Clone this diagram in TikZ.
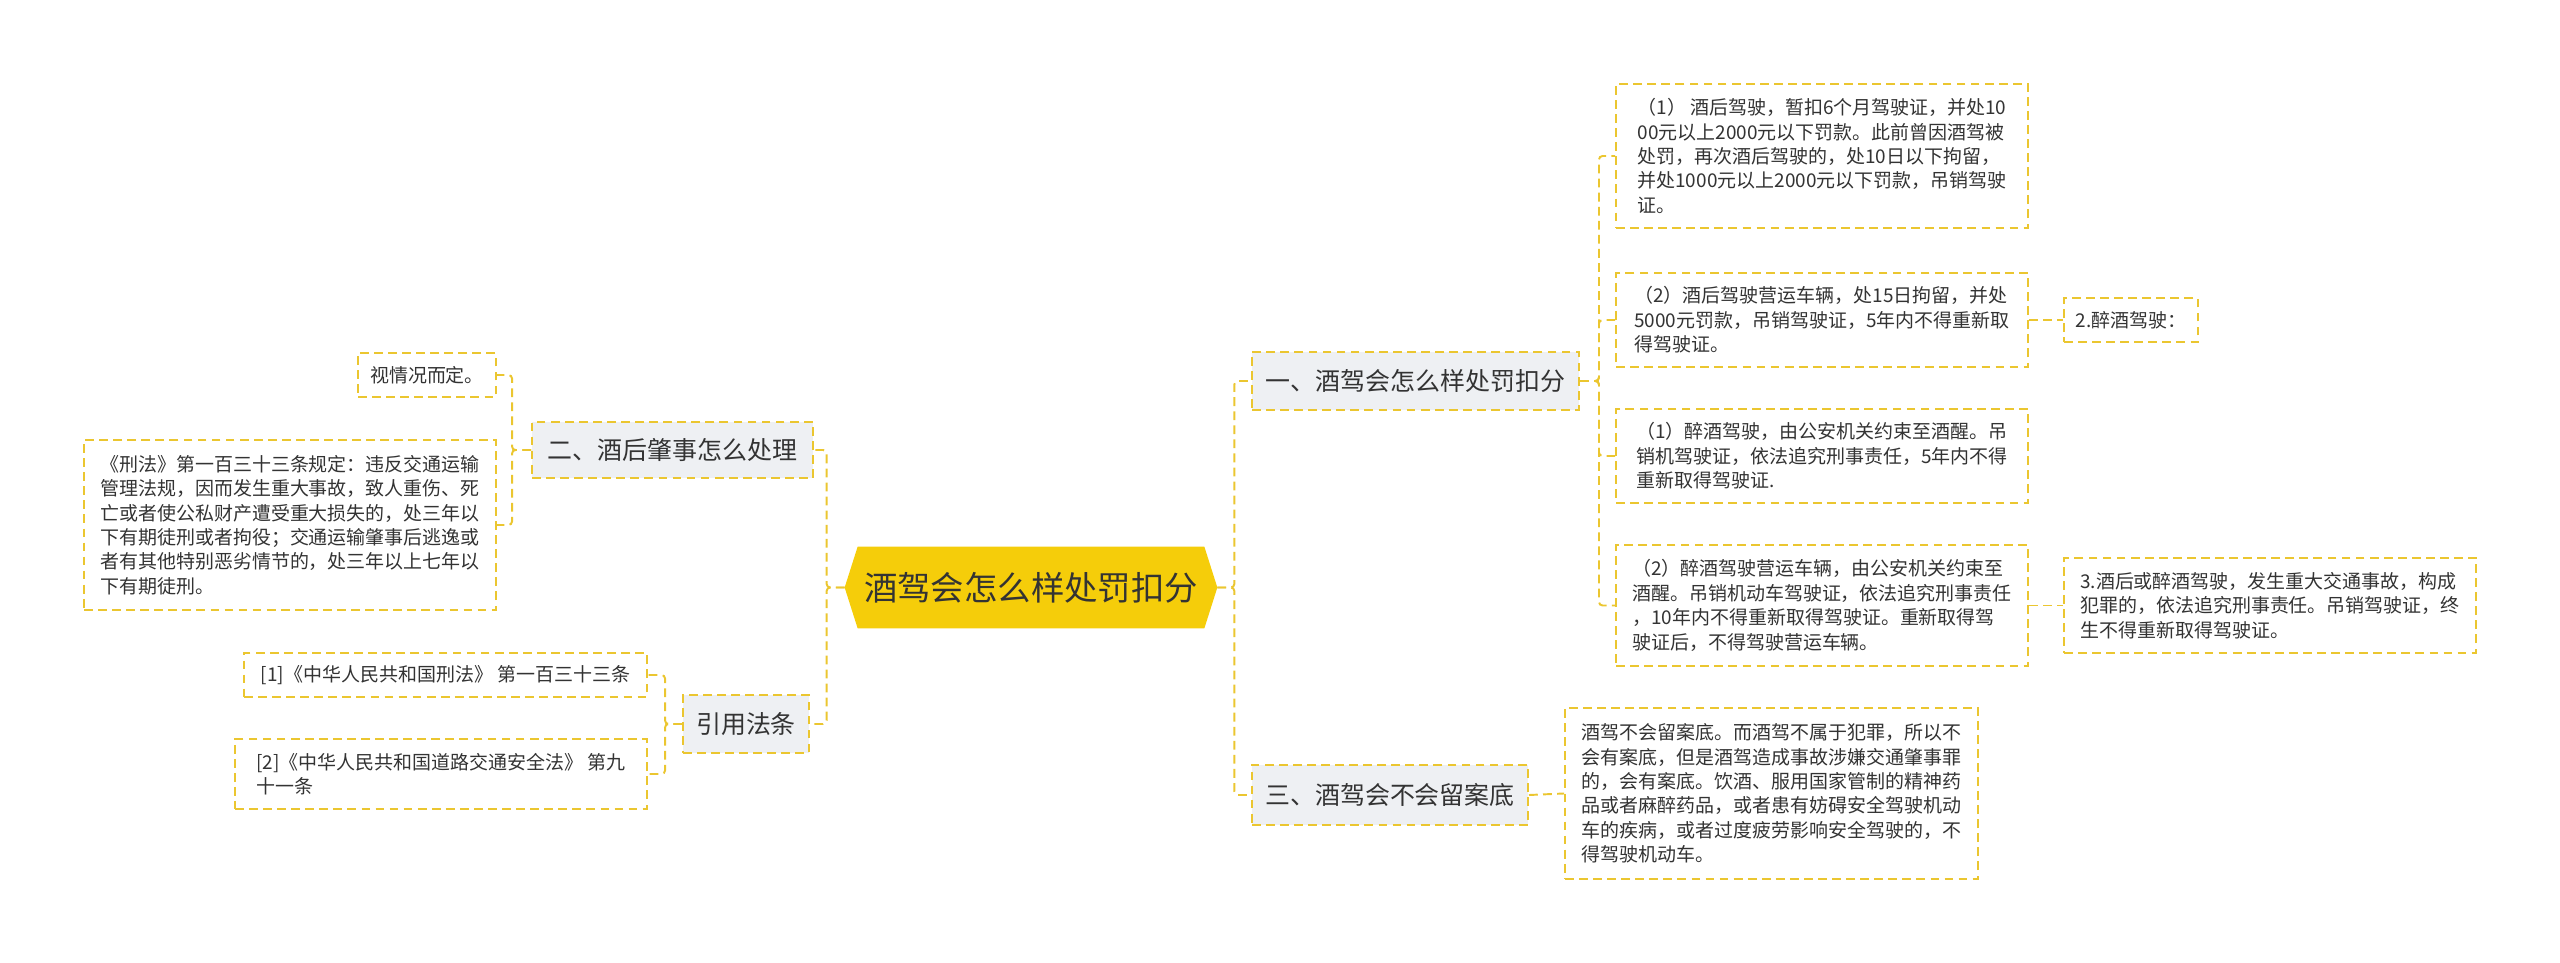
\documentclass[tikz,border=0pt]{standalone}
\usepackage{fontspec}
\setmainfont{Noto Sans CJK SC}
\usetikzlibrary{calc,backgrounds}
\definecolor{linkyellow}{HTML}{EBC630}
\definecolor{hubyellow}{HTML}{F5CD0A}
\definecolor{topicgray}{HTML}{EEF0F3}
\definecolor{inkgray}{HTML}{333333}

\begin{document}
\begin{tikzpicture}[x=0.2mm,y=-0.2mm,
  box/.style 2 args={minimum width=#1*0.2mm,minimum height=#2*0.2mm},
  link/.style={draw=linkyellow,line width=1.1pt,dash pattern=on 5pt off 3pt,rounded corners=2pt},
  leaf/.style={draw=linkyellow,line width=1.1pt,dash pattern=on 5pt off 3pt,fill=white,
    text=inkgray,align=left,inner sep=0pt,font=\fontsize{10.8pt}{13.9pt}\selectfont},
  topic/.style={draw=linkyellow,line width=1.1pt,dash pattern=on 5pt off 3pt,fill=topicgray,
    text=inkgray,inner sep=0pt,font=\fontsize{14.2pt}{17pt}\selectfont},
  hub/.style={text=inkgray,inner sep=0pt,font=\fontsize{19pt}{22pt}\selectfont}]
\useasboundingbox (0,0) rectangle (2560,963);

% centre
\node[hub,box={372}{81}] (hub) at (1031,587.5) {酒驾会怎么样处罚扣分};
\begin{pgfonlayer}{background}
\fill[hubyellow] (hub.west) -- ($(hub.north west)+(13,0)$) -- ($(hub.north east)+(-13,0)$)
  -- (hub.east) -- ($(hub.south east)+(-13,0)$) -- ($(hub.south west)+(13,0)$) -- cycle;
\end{pgfonlayer}

% topics
\node[topic,box={327}{58}] (t1) at (1415.5,381) {一、酒驾会怎么样处罚扣分};
\node[topic,box={276}{60}] (t3) at (1390,795) {三、酒驾会不会留案底};
\node[topic,box={281}{56}] (t2) at (672.5,450) {二、酒后肇事怎么处理};
\node[topic,box={126}{58}] (t4) at (746,724) {引用法条};

% right leaves
\node[leaf,box={412}{144}] (b1) at (1822,156) {（1） 酒后驾驶，暂扣6个月驾驶证，并处10\\00元以上2000元以下罚款。此前曾因酒驾被\\处罚，再次酒后驾驶的，处10日以下拘留，\\并处1000元以上2000元以下罚款，吊销驾驶\\证。};
\node[leaf,box={412}{94}] (b2) at (1822,320) {（2）酒后驾驶营运车辆，处15日拘留，并处\\5000元罚款，吊销驾驶证，5年内不得重新取\\得驾驶证。};
\node[leaf,box={412}{94}] (b3) at (1822,456) {（1）醉酒驾驶，由公安机关约束至酒醒。吊\\销机驾驶证，依法追究刑事责任，5年内不得\\重新取得驾驶证.};
\node[leaf,box={412}{121}] (b4) at (1822,605.5) {（2）醉酒驾驶营运车辆，由公安机关约束至\\酒醒。吊销机动车驾驶证，依法追究刑事责任\\，10年内不得重新取得驾驶证。重新取得驾\\驶证后，不得驾驶营运车辆。};
\node[leaf,box={134}{44}] (d2) at (2131,320) {2.醉酒驾驶：};
\node[leaf,box={412}{95}] (d3) at (2270,605.5) {3.酒后或醉酒驾驶，发生重大交通事故，构成\\犯罪的，依法追究刑事责任。吊销驾驶证，终\\生不得重新取得驾驶证。};
\node[leaf,box={413}{171}] (b5) at (1771.5,793.5) {酒驾不会留案底。而酒驾不属于犯罪，所以不\\会有案底，但是酒驾造成事故涉嫌交通肇事罪\\的，会有案底。饮酒、服用国家管制的精神药\\品或者麻醉药品，或者患有妨碍安全驾驶机动\\车的疾病，或者过度疲劳影响安全驾驶的，不\\得驾驶机动车。};

% left leaves
\node[leaf,box={138}{44}] (a1) at (427,375) {视情况而定。};
\node[leaf,box={412}{170}] (a2) at (290,525) {《刑法》第一百三十三条规定：违反交通运输\\管理法规，因而发生重大事故，致人重伤、死\\亡或者使公私财产遭受重大损失的，处三年以\\下有期徒刑或者拘役；交通运输肇事后逃逸或\\者有其他特别恶劣情节的，处三年以上七年以\\下有期徒刑。};
\node[leaf,box={403}{44}] (c1) at (445.5,675) {[1]《中华人民共和国刑法》 第一百三十三条};
\node[leaf,box={412}{70}] (c2) at (441,774) {[2]《中华人民共和国道路交通安全法》 第九\\十一条};

% connectors
\draw[link] (hub.east) -- ++(17,0) |- (t1.west);
\draw[link] (hub.east) -- ++(17,0) |- (t3.west);
\draw[link] (hub.west) -- ++(-18,0) |- (t2.east);
\draw[link] (hub.west) -- ++(-18,0) |- (t4.east);
\foreach \b in {b1,b2,b3,b4}
  \draw[link] (t1.east) -- ++(19,0) |- (\b.west);
\draw[link] (b2.east) -- (d2.west);
\draw[link] (b4.east) -- (d3.west);
\draw[link] (t3.east) -- (b5.west);
\foreach \a in {a1,a2}
  \draw[link] (t2.west) -- ++(-19,0) |- (\a.east);
\foreach \c in {c1,c2}
  \draw[link] (t4.west) -- ++(-17,0) |- (\c.east);
\end{tikzpicture}
\end{document}
